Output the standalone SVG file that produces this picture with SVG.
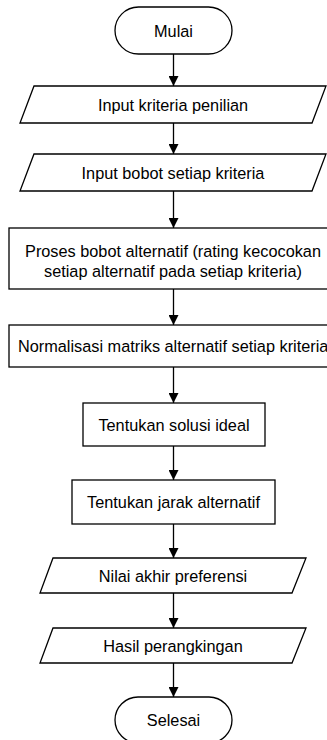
<svg xmlns="http://www.w3.org/2000/svg" width="327" height="740" viewBox="0 0 327 740">
<defs>
<style>
.s{fill:#fff;stroke:#000;stroke-width:1.3}
.t{font-family:"Liberation Sans",Arial,sans-serif;font-size:16.3px;fill:#000;text-anchor:middle;dominant-baseline:central}
.c{stroke:#000;stroke-width:1.3;fill:none;marker-end:url(#ah)}
</style>
<marker id="ah" markerWidth="11" markerHeight="10" refX="10" refY="5" orient="auto" markerUnits="userSpaceOnUse">
<path d="M0,0 L10,5 L0,10 Z" fill="#000"/>
</marker>
</defs>
<rect width="327" height="740" fill="#fff"/>
<g id="connectors">
<line class="c" x1="173.5" y1="54" x2="173.5" y2="86"/>
<line class="c" x1="173.5" y1="123" x2="173.5" y2="154"/>
<line class="c" x1="173.5" y1="191" x2="173.5" y2="228"/>
<line class="c" x1="173.5" y1="289" x2="173.5" y2="325"/>
<line class="c" x1="173.5" y1="367" x2="173.5" y2="403"/>
<line class="c" x1="173.5" y1="446" x2="173.5" y2="480"/>
<line class="c" x1="173.5" y1="524" x2="173.5" y2="558"/>
<line class="c" x1="173.5" y1="593" x2="173.5" y2="628"/>
<line class="c" x1="173.5" y1="663" x2="173.5" y2="697"/>
</g>
<g id="mulai">
<rect class="s" x="115" y="7" width="117" height="47" rx="23.5"/>
<text class="t" x="173.5" y="30.5">Mulai</text>
</g>
<g id="input-kriteria">
<polygon class="s" points="34,86 326,86 312,123 20,123"/>
<text class="t" x="173" y="104.5">Input kriteria penilian</text>
</g>
<g id="input-bobot">
<polygon class="s" points="34,154 326,154 312,191 20,191"/>
<text class="t" x="173" y="172.5">Input bobot setiap kriteria</text>
</g>
<g id="proses-bobot">
<rect class="s" x="9" y="228" width="330" height="61"/>
<text class="t" x="173" y="251">Proses bobot alternatif (rating kecocokan</text>
<text class="t" x="173" y="270.5">setiap alternatif pada setiap kriteria)</text>
</g>
<g id="normalisasi">
<rect class="s" x="9" y="325" width="330" height="42"/>
<text class="t" x="18" y="345.5" style="text-anchor:start">Normalisasi matriks alternatif setiap kriteria</text>
</g>
<g id="solusi-ideal">
<rect class="s" x="83" y="403" width="182" height="43"/>
<text class="t" x="174" y="424.5">Tentukan solusi ideal</text>
</g>
<g id="jarak-alternatif">
<rect class="s" x="72" y="480" width="203" height="44"/>
<text class="t" x="173.5" y="502">Tentukan jarak alternatif</text>
</g>
<g id="nilai-akhir">
<polygon class="s" points="53,558 306,558 292,593 40,593"/>
<text class="t" x="173" y="575.5">Nilai akhir preferensi</text>
</g>
<g id="hasil">
<polygon class="s" points="53,628 306,628 292,663 40,663"/>
<text class="t" x="173" y="645.5">Hasil perangkingan</text>
</g>
<g id="selesai">
<rect class="s" x="115" y="697" width="117" height="46" rx="23"/>
<text class="t" x="173.5" y="720">Selesai</text>
</g>
</svg>
